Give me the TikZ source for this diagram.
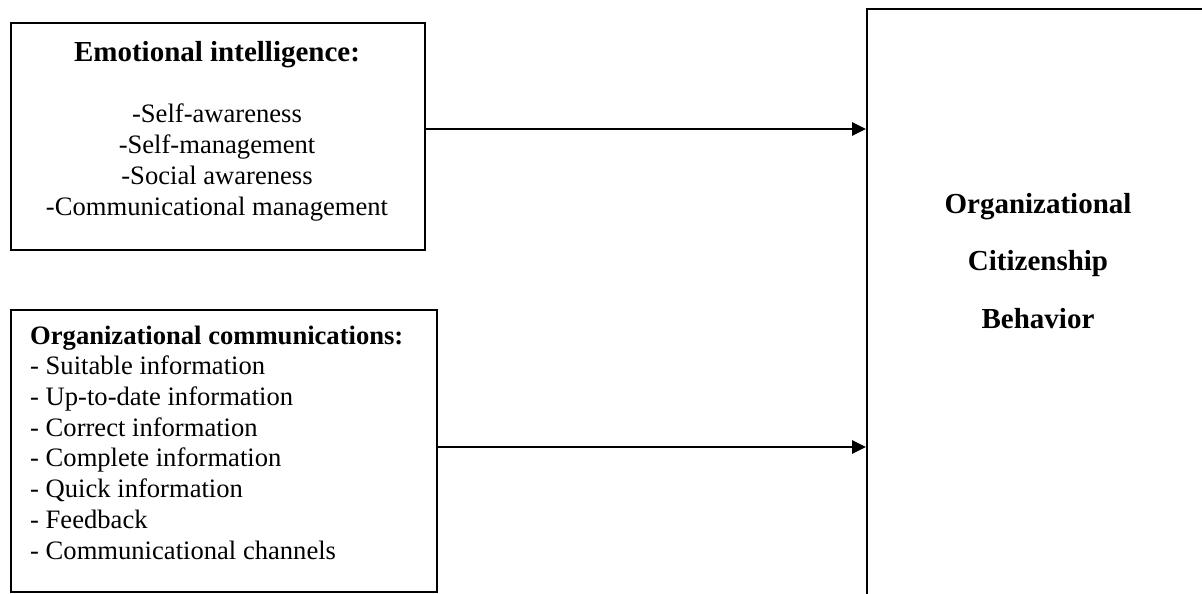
\documentclass[tikz,border=0pt]{standalone}
\usepackage{fontspec}
\setmainfont{Liberation Serif}
\usetikzlibrary{arrows.meta}
\begin{document}
\begin{tikzpicture}[x=1pt,y=-1pt,
  box/.style={draw=black, line width=2pt, rectangle, inner sep=0pt, anchor=north west},
  arr/.style={line width=2.8pt, -{Triangle[length=14pt,width=13pt]}},
  txt/.style={inner sep=0pt, font=\fontsize{26.6}{30.7}\selectfont},
  bigtxt/.style={inner sep=0pt, font=\fontsize{29}{57.5}\selectfont\bfseries, align=center}
]
\useasboundingbox[fill=white] (0,0) rectangle (1202,594);
\clip (0,0) rectangle (1202,594);
\node[box, minimum width=414pt, minimum height=227pt] (ei) at (10,22) {};
\node[box, minimum width=426pt, minimum height=282pt] (oc) at (10,309) {};
\node[box, minimum width=380pt, minimum height=640pt] (ocb) at (866,8) {};
\node[txt, align=center, anchor=base] (eitext) at (217,215)
  {{\fontsize{29}{30.7}\selectfont\bfseries Emotional intelligence:}\\[30.7pt]
   -Self-awareness\\-Self-management\\-Social awareness\\-Communicational management};
\node[txt, align=left, anchor=base west] (octext) at (30,559)
  {\textbf{Organizational communications:}\\
   - Suitable information\\- Up-to-date information\\- Correct information\\
   - Complete information\\- Quick information\\- Feedback\\- Communicational channels};
\node[bigtxt, anchor=base] (ocbtext) at (1038,328)
  {Organizational\\Citizenship\\Behavior};
\coordinate (s1) at ([yshift=7.5pt]ei.east);
\coordinate (s2) at ([yshift=4pt]oc.east);
\draw[arr] (s1) -- (s1 -| ocb.west);
\draw[arr] (s2) -- (s2 -| ocb.west);
\end{tikzpicture}
\end{document}
